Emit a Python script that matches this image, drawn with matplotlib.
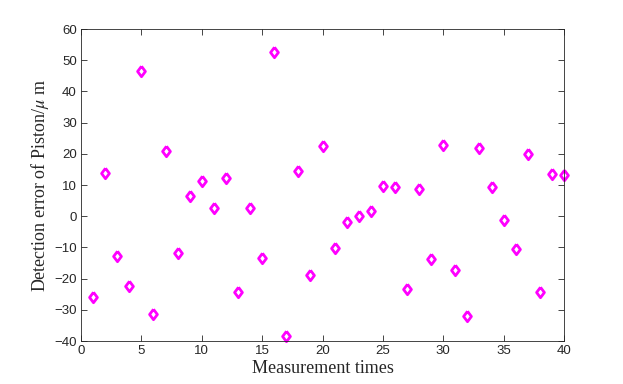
import numpy as np
import matplotlib.pyplot as plt

plt.rcParams['mathtext.fontset'] = 'stix'

times = np.arange(1, 41)
errors = [-25.9, 14.0, -12.8, -22.5, 46.6, -31.2, 21.0, -11.7, 6.5, 11.2,
          2.7, 12.2, -24.2, 2.5, -13.3, 52.5, -38.5, 14.4, -19.0, 22.6,
          -10.1, -2.0, 0.0, 1.7, 9.8, 9.2, -23.4, 8.7, -13.7, 22.9,
          -17.3, -32.0, 21.8, 9.4, -1.3, -10.4, 20.0, -24.2, 13.4, 13.1]

fig = plt.figure(figsize=(6.23, 3.84), dpi=100)
ax = fig.add_axes([81/623, 1 - 341/384, (564-81)/623, (341-29)/384])

# slightly tall diamond, like MATLAB's
diamond = [(0, 1), (0.75, 0), (0, -1), (-0.75, 0), (0, 1)]
ax.plot(times, errors, linestyle='none', marker=diamond, markersize=7.5,
        markerfacecolor='white', markeredgecolor='#ff00ff', markeredgewidth=2.0,
        clip_on=False)

ax.set_xlim(0, 40)
ax.set_ylim(-40, 60)
ax.set_xticks(range(0, 41, 5))
ax.set_yticks(range(-40, 61, 10))

for s in ax.spines.values():
    s.set_color('#262626')
    s.set_linewidth(0.6)
ax.tick_params(direction='in', top=True, right=True, length=4, width=0.6,
               color='#262626', labelcolor='#262626', labelsize=9.5, pad=3)
for lab in ax.get_xticklabels() + ax.get_yticklabels():
    lab.set_family('Liberation Sans')

ax.set_xlabel('Measurement times', family='Liberation Serif', fontsize=13,
              color='#262626', labelpad=2)
ax.set_ylabel(r'Detection error of Piston/$\mu$ m', family='Liberation Serif',
              fontsize=13, color='#262626', labelpad=2)

fig.savefig('out.png', dpi=100)
